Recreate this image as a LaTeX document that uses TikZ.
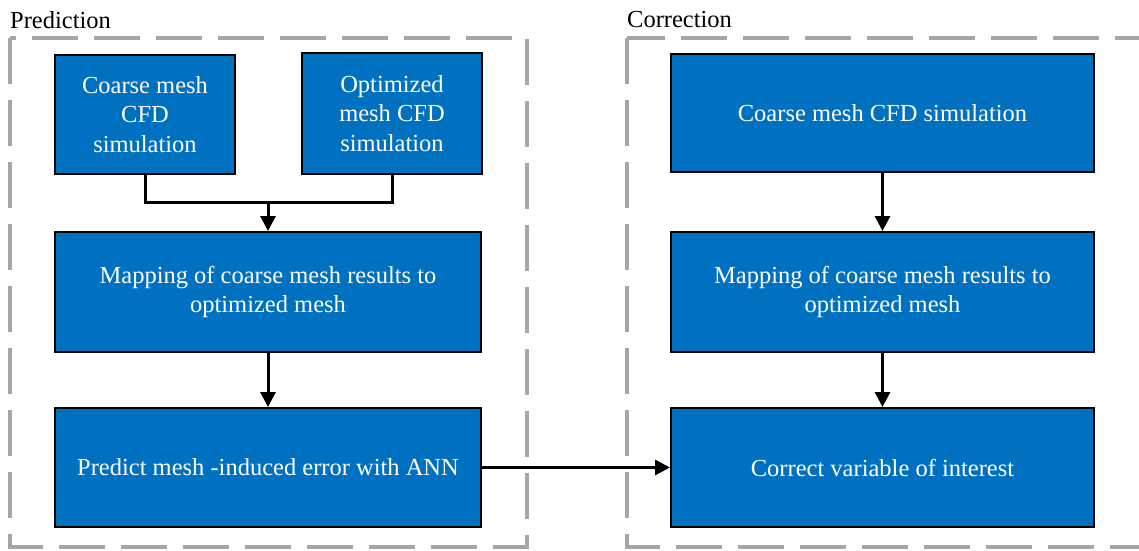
\documentclass[tikz,border=0pt]{standalone}
\usepackage{fontspec}
\setmainfont{Liberation Serif}
\usetikzlibrary{arrows.meta}
\definecolor{boxblue}{HTML}{0070C0}
\definecolor{dashgrey}{HTML}{A6A6A6}
\begin{document}
\begin{tikzpicture}[x=1pt,y=1pt,
  blk/.style={draw=black, line width=2pt, fill=boxblue, text=white, align=center,
    inner sep=2pt, font=\fontsize{24.5}{29.5}\selectfont},
  grp/.style={draw=dashgrey, line width=4pt, dash pattern=on 46pt off 16pt},
  lbl/.style={anchor=west, inner sep=0pt, font=\fontsize{24.5}{28}\selectfont},
  conn/.style={draw=black, line width=3pt, -{Triangle[length=15pt,width=15pt]}},
  seg/.style={draw=black, line width=3pt}]
\useasboundingbox (0,0) rectangle (1139,550);
\fill[white] (0,0) rectangle (1139,550);
% groups
\draw[grp] (10,512) rectangle (527,3);
\draw[grp] (627,512) rectangle (1160,3);
\node[lbl] (lp) at (10,530) {Prediction};
\node[lbl] (lc) at (627,530) {Correction};
% blocks
\node[blk, minimum width=180pt, minimum height=119pt] (cp) at (145,435.5) {Coarse mesh\\CFD\\simulation};
\node[blk, minimum width=180pt, minimum height=121pt] (op) at (392,436.5) {Optimized\\mesh CFD\\simulation};
\node[blk, minimum width=426pt, minimum height=120pt] (mp) at (268,258) {Mapping of coarse mesh results to\\optimized mesh};
\node[blk, minimum width=426pt, minimum height=119pt] (pp) at (268,82.5) {Predict mesh -induced error with ANN};
\node[blk, minimum width=423pt, minimum height=118pt] (cc) at (882.5,437) {Coarse mesh CFD simulation};
\node[blk, minimum width=423pt, minimum height=120pt] (mc) at (882.5,258) {Mapping of coarse mesh results to\\optimized mesh};
\node[blk, minimum width=423pt, minimum height=119pt] (vc) at (882.5,82.5) {Correct variable of interest};
% connectors
\coordinate (jn) at (268,348);
\draw[seg] (cp.south) |- (jn);
\draw[seg] (op.south) |- (jn);
\draw[conn] (jn) -- (mp.north);
\draw[conn] (mp.south) -- (pp.north);
\draw[conn] (pp.east) -- (vc.west);
\draw[conn] (cc.south) -- (mc.north);
\draw[conn] (mc.south) -- (vc.north);
\end{tikzpicture}
\end{document}
